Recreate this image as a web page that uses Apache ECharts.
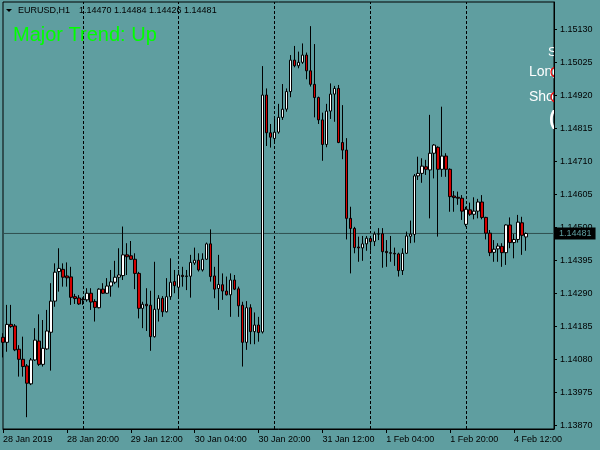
<!DOCTYPE html>
<html><head><meta charset="utf-8">
<script src="https://cdn.jsdelivr.net/npm/echarts@6/dist/echarts.min.js"></script>
<style>html,body{margin:0;padding:0;background:#5f9ea0;} #c{width:600px;height:450px;}</style>
</head><body><div id="c"></div>
<script>
const symbolName = 'EURUSD,H1';
const trendText = 'Major Trend: Up';
const opens = [1.14151,1.14135,1.14192,1.14187,1.14113,1.14081,1.14060,1.14003,1.14079,1.14139,
1.14065,1.14114,1.14167,1.14266,1.14360,1.14367,1.14346,1.14343,1.14280,1.14276,
1.14272,1.14270,1.14291,1.14265,1.14245,1.14304,1.14291,1.14314,1.14326,1.14342,
1.14347,1.14413,1.14410,1.14399,1.14354,1.14243,1.14256,1.14253,1.14153,1.14240,
1.14275,1.14232,1.14280,1.14328,1.14310,1.14348,1.14344,1.14345,1.14387,1.14396,
1.14365,1.14399,1.14448,1.14346,1.14306,1.14318,1.14298,1.14286,1.14333,1.14305,
1.14253,1.14135,1.14245,1.14169,1.14190,1.14168,1.14921,1.14801,1.14783,1.14803,
1.14850,1.14876,1.14932,1.15032,1.15014,1.15025,1.15048,1.14998,1.14955,1.14913,
1.14842,1.14764,1.14870,1.14924,1.14942,1.14770,1.14746,1.14529,1.14497,1.14438,
1.14435,1.14448,1.14465,1.14456,1.14479,1.14480,1.14424,1.14420,1.14418,1.14416,
1.14363,1.14418,1.14472,1.14478,1.14664,1.14672,1.14693,1.14683,1.14736,1.14755,
1.14685,1.14727,1.14685,1.14600,1.14596,1.14593,1.14510,1.14556,1.14542,1.14552,
1.14581,1.14532,1.14482,1.14421,1.14432,1.14440,1.14420,1.14508,1.14452,1.14462,
1.14515,1.14470];
const highs = [1.14164,1.14254,1.14254,1.14193,1.14126,1.14153,1.14066,1.14085,1.14180,1.14224,
1.14206,1.14238,1.14323,1.14386,1.14434,1.14386,1.14389,1.14375,1.14289,1.14285,
1.14278,1.14307,1.14307,1.14272,1.14307,1.14323,1.14339,1.14365,1.14394,1.14434,
1.14503,1.14450,1.14457,1.14418,1.14359,1.14264,1.14307,1.14299,1.14391,1.14285,
1.14282,1.14339,1.14402,1.14365,1.14365,1.14375,1.14365,1.14413,1.14436,1.14418,
1.14418,1.14452,1.14494,1.14375,1.14413,1.14354,1.14344,1.14354,1.14349,1.14312,
1.14264,1.14266,1.14256,1.14230,1.14216,1.15013,1.14942,1.14829,1.14852,1.14893,
1.14956,1.14942,1.15048,1.15077,1.15059,1.15085,1.15056,1.15140,1.15083,1.14916,
1.14865,1.14893,1.14958,1.14950,1.14953,1.14889,1.14784,1.14566,1.14502,1.14471,
1.14473,1.14473,1.14473,1.14487,1.14498,1.14498,1.14460,1.14473,1.14436,1.14420,
1.14434,1.14487,1.14522,1.14670,1.14725,1.14720,1.14715,1.14858,1.14765,1.14758,
1.14884,1.14736,1.14688,1.14616,1.14614,1.14603,1.14566,1.14579,1.14596,1.14591,
1.14603,1.14534,1.14492,1.14460,1.14450,1.14450,1.14510,1.14532,1.14479,1.14540,
1.14534,1.14484];
const lows = [1.14087,1.14105,1.14181,1.14107,1.14026,1.14026,1.13897,1.13999,1.14076,1.14060,
1.14058,1.14111,1.14045,1.14248,1.14296,1.14312,1.14312,1.14254,1.14257,1.14254,
1.14254,1.14264,1.14238,1.14201,1.14243,1.14289,1.14289,1.14280,1.14320,1.14309,
1.14333,1.14349,1.14397,1.14304,1.14211,1.14180,1.14171,1.14108,1.14150,1.14201,
1.14216,1.14230,1.14270,1.14291,1.14273,1.14312,1.14301,1.14277,1.14381,1.14360,
1.14360,1.14397,1.14328,1.14275,1.14238,1.14270,1.14284,1.14216,1.14301,1.14216,
1.14058,1.14111,1.14129,1.14129,1.14137,1.14163,1.14759,1.14754,1.14770,1.14798,
1.14842,1.14868,1.14914,1.15009,1.15006,1.15020,1.14971,1.14948,1.14850,1.14829,
1.14712,1.14755,1.14845,1.14836,1.14768,1.14717,1.14462,1.14354,1.14418,1.14391,
1.14394,1.14426,1.14426,1.14441,1.14460,1.14372,1.14375,1.14391,1.14378,1.14344,
1.14349,1.14416,1.14450,1.14452,1.14651,1.14642,1.14667,1.14529,1.14656,1.14471,
1.14661,1.14661,1.14550,1.14550,1.14572,1.14524,1.14503,1.14537,1.14526,1.14529,
1.14526,1.14462,1.14409,1.14391,1.14391,1.14375,1.14381,1.14434,1.14402,1.14452,
1.14413,1.14426];
const closes = [1.14135,1.14192,1.14185,1.14111,1.14081,1.14058,1.14005,1.14079,1.14142,1.14065,
1.14116,1.14171,1.14266,1.14358,1.14370,1.14342,1.14340,1.14278,1.14274,1.14257,
1.14270,1.14291,1.14263,1.14246,1.14304,1.14291,1.14314,1.14327,1.14342,1.14349,
1.14413,1.14407,1.14399,1.14354,1.14243,1.14256,1.14251,1.14153,1.14240,1.14275,
1.14232,1.14280,1.14326,1.14315,1.14349,1.14344,1.14346,1.14389,1.14396,1.14365,
1.14399,1.14448,1.14344,1.14304,1.14319,1.14298,1.14286,1.14333,1.14304,1.14251,
1.14135,1.14245,1.14169,1.14190,1.14166,1.14921,1.14801,1.14787,1.14803,1.14850,
1.14876,1.14932,1.15032,1.15014,1.15025,1.15048,1.14998,1.14955,1.14913,1.14842,
1.14764,1.14870,1.14924,1.14942,1.14770,1.14746,1.14529,1.14497,1.14436,1.14435,
1.14448,1.14466,1.14455,1.14479,1.14480,1.14423,1.14420,1.14418,1.14416,1.14363,
1.14418,1.14473,1.14479,1.14664,1.14672,1.14695,1.14685,1.14736,1.14762,1.14685,
1.14727,1.14685,1.14598,1.14595,1.14593,1.14552,1.14558,1.14542,1.14552,1.14581,
1.14532,1.14482,1.14420,1.14431,1.14441,1.14420,1.14508,1.14452,1.14462,1.14517,
1.14475,1.14481];
const yTicks = [1.13870,1.13975,1.14080,1.14185,1.14290,1.14395,1.14500,1.14605,1.14710,1.14815,1.14920,1.15025,1.15130];
const xTickIdx = [0,16,32,48,64,80,96,112,128];
const xTickLabels = ['28 Jan 2019','28 Jan 20:00','29 Jan 12:00','30 Jan 04:00','30 Jan 20:00','31 Jan 12:00','1 Feb 04:00','1 Feb 20:00','4 Feb 12:00'];
const shiftBars = 7; // empty space right of the last bar (chart shift)

// hourly bar times, weekends skipped
const categories = [], hours = [];
let t = Date.UTC(2019, 0, 28, 4);
while (categories.length < opens.length + shiftBars) {
  const d = new Date(t), wd = d.getUTCDay();
  if (wd !== 0 && wd !== 6) { categories.push(d.toISOString().slice(0, 16)); hours.push(d.getUTCHours()); }
  t += 3600000;
}
const sepIdx = [];
for (let i = 1; i < opens.length; i++) if (hours[i] === 0) sepIdx.push(i);

const data = opens.map((o, i) => [o, closes[i], lows[i], highs[i]]);
const n = opens.length - 1;
const lastClose = closes[n];
const header = [opens[n], highs[n], lows[n], closes[n]].map(v => v.toFixed(5)).join(' ');
const BG = '#5f9ea0';
const FF = 'Liberation Sans';

const chart = echarts.init(document.getElementById('c'), null, {renderer: 'canvas'});
chart.setOption({
  animation: false,
  backgroundColor: BG,
  grid: {left: 2, right: 46, top: 2, bottom: 21, show: true, borderColor: '#000', borderWidth: 1, backgroundColor: 'transparent'},
  xAxis: [{
    type: 'category', data: categories, boundaryGap: false,
    axisLine: {show: true, lineStyle: {color: '#000', width: 1}},
    axisTick: {show: true, length: 4, interval: (i) => xTickIdx.includes(i), lineStyle: {color: '#000'}},
    axisLabel: {interval: (i) => xTickIdx.includes(i), formatter: (v, i) => xTickLabels[xTickIdx.indexOf(i)] || '',
      align: 'left', color: '#000', fontSize: 9, fontFamily: FF, margin: 6},
    splitLine: {show: false}
  }, {
    type: 'category', data: categories, boundaryGap: false, position: 'bottom', gridIndex: 0,
    axisLine: {show: false},
    axisTick: {show: true, inside: true, length: 3, interval: (i) => sepIdx.includes(i), lineStyle: {color: '#000'}},
    axisLabel: {show: false}, splitLine: {show: false}
  }],
  yAxis: {
    type: 'value', position: 'right', min: 1.138595, max: 1.152167, z: 5,
    splitLine: {show: false},
    axisLine: {show: true, lineStyle: {color: '#000', width: 1}},
    axisTick: {show: true, length: 3, customValues: yTicks, lineStyle: {color: '#000'}},
    axisLabel: {customValues: yTicks, formatter: (v) => v.toFixed(5), color: '#000', fontSize: 9, fontFamily: FF, margin: 6}
  },
  series: [{
    type: 'line', z: 6, silent: true, symbol: 'none',
    data: [[categories[0], lastClose], [categories[categories.length - 1], lastClose]],
    lineStyle: {color: '#2f4f4f', width: 1},
    endLabel: {show: true, formatter: () => lastClose.toFixed(5), backgroundColor: '#000', color: BG,
      padding: [2, 4, 1, 4], fontSize: 9, fontFamily: FF, distance: 1}
  }, {
    type: 'candlestick', data: data, barWidth: 3, clip: false, z: 7,
    itemStyle: {color: '#ffffff', color0: '#d40000', borderColor: '#000000', borderColor0: '#000000', borderWidth: 1},
    markLine: {
      symbol: ['none', 'none'], silent: true, animation: false,
      data: sepIdx.map(i => ({xAxis: categories[i], lineStyle: {color: '#000', type: [3, 2], width: 1}, label: {show: false}}))
    }
  }],
  graphic: [
    {type: 'text', x: 529, y: 72, z: 1, style: {text: 'Long', fill: '#fff', font: '14px Liberation Sans', align: 'left', verticalAlign: 'middle'}},
    {type: 'text', x: 529, y: 97, z: 1, style: {text: 'Short', fill: '#fff', font: '14px Liberation Sans', align: 'left', verticalAlign: 'middle'}},
    {type: 'text', x: 548, y: 52, z: 1, style: {text: 'S', fill: '#fff', font: '13px Liberation Sans', align: 'left', verticalAlign: 'middle'}},
    {type: 'text', x: 549, y: 119, z: 1, style: {text: '(', fill: '#fff', font: 'bold 20px Liberation Sans', align: 'left', verticalAlign: 'middle'}},
    {type: 'circle', shape: {cx: 556, cy: 72, r: 5}, z: 1, style: {fill: 'none', stroke: '#ff0000', lineWidth: 1.2}},
    {type: 'circle', shape: {cx: 556, cy: 97, r: 5}, z: 1, style: {fill: 'none', stroke: '#ff0000', lineWidth: 1.2}},
    {type: 'rect', shape: {x: 555, y: 0, width: 45, height: 428}, z: 3, style: {fill: BG}},
    {type: 'polygon', shape: {points: [[6, 9], [12, 9], [9, 12]]}, z: 10, style: {fill: '#000'}},
    {type: 'text', x: 18, y: 11, z: 10, style: {text: symbolName, fill: '#000', font: '9px Liberation Sans', align: 'left', verticalAlign: 'middle'}},
    {type: 'text', x: 79, y: 11, z: 10, style: {text: header, fill: '#000', font: '9px Liberation Sans', align: 'left', verticalAlign: 'middle'}},
    {type: 'text', x: 13, y: 35, z: 10, style: {text: trendText, fill: '#00ff00', font: '20px Liberation Sans', align: 'left', verticalAlign: 'middle'}}
  ]
});
</script></body></html>
